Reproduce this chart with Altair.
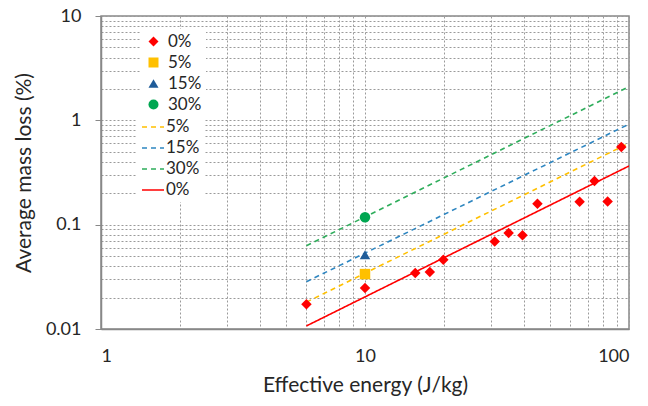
import altair as alt
import pandas as pd

# measured data (effective energy J/kg, average mass loss %)
x_0 = [6, 10, 15.5, 17.6, 19.8, 31, 35, 39.5, 45, 65, 74, 83, 93.5]
y_0 = [0.0173, 0.0247, 0.0345, 0.0352, 0.046, 0.069, 0.083, 0.079, 0.159, 0.166, 0.262, 0.167, 0.555]
x_5 = [10]
y_5 = [0.0336]
x_15 = [10]
y_15 = [0.0514]
x_30 = [10]
y_30 = [0.118]

# trend lines (endpoints)
fit_x = [6, 100]
fit_5 = [0.0181, 0.605]
fit_15 = [0.0284, 0.92]
fit_30 = [0.0628, 2.1]
fit_0 = [0.0107, 0.365]

pt_names = ["0%", "5%", "15%", "30%"]
pt_colors = ["#FF0000", "#FFC000", "#1F5C99", "#00A651"]
pt_shapes = ["diamond", "square", "triangle-up", "circle"]
ln_names = ["5%", "15%", "30%", "0%"]
ln_colors = ["#FFC000", "#2E86C1", "#2EAD5B", "#FF0000"]
ln_dash = [[5, 4], [5, 4], [5, 4], [1, 0]]

rows = []
for name, xs, ys in [("0%", x_0, y_0), ("5%", x_5, y_5), ("15%", x_15, y_15), ("30%", x_30, y_30)]:
    for a, b in zip(xs, ys):
        rows.append({"x": a, "y": b, "series": name})
pts = pd.DataFrame(rows)

lrows = []
for name, ys in [("5%", fit_5), ("15%", fit_15), ("30%", fit_30), ("0%", fit_0)]:
    for a, b in zip(fit_x, ys):
        lrows.append({"x": a, "y": b, "fit": name})
lines = pd.DataFrame(lrows)

x_vals = [1, 2, 3, 4, 5, 6, 7, 8, 9, 10, 20, 30, 40, 50, 60, 70, 80, 90, 100]
y_vals = [0.01, 0.02, 0.03, 0.04, 0.05, 0.06, 0.07, 0.08, 0.09,
          0.1, 0.2, 0.3, 0.4, 0.5, 0.6, 0.7, 0.8, 0.9,
          1, 2, 3, 4, 5, 6, 7, 8, 9, 10]

FONT = "Lato"
TXT = "#262626"

xscale = alt.Scale(type="log", domain=[1, 100], nice=False)
yscale = alt.Scale(type="log", domain=[0.01, 10], nice=False)

xaxis = alt.Axis(
    values=x_vals, format="~g",
    labelExpr="indexof([1,10,100], datum.value) >= 0 ? datum.label : ''",
    title="Effective energy (J/kg)", ticks=False, labelPadding=18,
    titlePadding=9, domainColor="#888", domainWidth=1.5,
    gridColor="#9a9a9a", gridDash=[2, 2], gridWidth=1,
)
yaxis = alt.Axis(
    values=y_vals, format="~g",
    labelExpr="indexof([0.01,0.1,1,10], datum.value) >= 0 ? datum.label : ''",
    title="Average mass loss (%)", tickSize=6,
    tickColor={"condition": {"test": "indexof([0.01,0.1,1,10], datum.value) >= 0", "value": "#888"},
               "value": "transparent"},
    labelPadding=14, titlePadding=11, domainColor="#888", domainWidth=1.5,
    gridColor="#9a9a9a", gridDash=[2, 2], gridWidth=1,
)

line_layer = alt.Chart(lines).mark_line(strokeWidth=1.6, clip=True).encode(
    x=alt.X("x:Q", scale=xscale, axis=xaxis),
    y=alt.Y("y:Q", scale=yscale, axis=yaxis),
    stroke=alt.Stroke("fit:N", scale=alt.Scale(domain=ln_names, range=ln_colors),
                      legend=alt.Legend(title=None, orient="none", legendX=36, legendY=95,
                                        symbolType="stroke", symbolSize=484, symbolStrokeWidth=1.6,
                                        labelOffset=1, rowPadding=1, padding=4, fillColor="white")),
    strokeDash=alt.StrokeDash("fit:N", scale=alt.Scale(domain=ln_names, range=ln_dash), legend=None),
    detail="fit:N",
)

point_layer = alt.Chart(pts).mark_point(filled=True, opacity=1, size=110).encode(
    x=alt.X("x:Q", scale=xscale),
    y=alt.Y("y:Q", scale=yscale),
    color=alt.Color("series:N", scale=alt.Scale(domain=pt_names, range=pt_colors),
                    legend=alt.Legend(title=None, orient="none", legendX=40, legendY=13,
                                      symbolSize=100, labelOffset=6, rowPadding=3, padding=4,
                                      fillColor="white")),
    shape=alt.Shape("series:N", scale=alt.Scale(domain=pt_names, range=pt_shapes)),
)

chart = alt.layer(line_layer, point_layer).properties(
    width=528, height=313,
    padding={"left": 101, "top": 16, "right": 19, "bottom": 77},
    autosize=alt.AutoSizeParams(type="none"),
    background="white",
).configure_axis(
    labelFont=FONT, labelFontSize=18, labelColor=TXT,
    titleFont=FONT, titleFontSize=21, titleFontWeight="normal", titleColor=TXT,
).configure_legend(
    labelFont=FONT, labelFontSize=17, labelColor=TXT,
).configure_view(
    stroke="#888", strokeWidth=1.5,
)

chart.save("out.html", embed_options={"renderer": "svg", "actions": False})
